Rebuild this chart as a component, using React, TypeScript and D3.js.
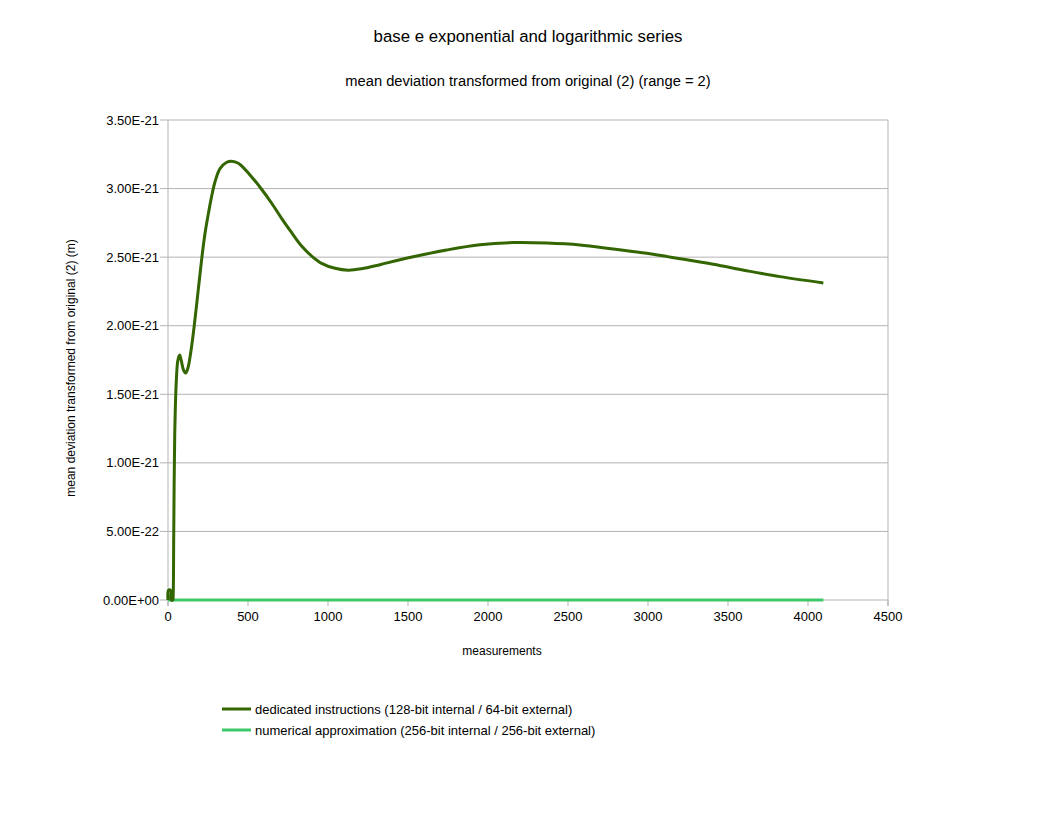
import React from "react";
import * as d3 from "d3";

const chartTitle = "base e exponential and logarithmic series";
const chartSubtitle = "mean deviation transformed from original (2) (range = 2)";
const xAxisTitle = "measurements";
const yAxisTitle = "mean deviation transformed from original (2) (m)";

const xTicks = [0, 500, 1000, 1500, 2000, 2500, 3000, 3500, 4000, 4500];
const yTicks = [0, 0.5e-21, 1.0e-21, 1.5e-21, 2.0e-21, 2.5e-21, 3.0e-21, 3.5e-21];

const dedicatedX = [
  0, 3, 16, 20, 30, 32, 36, 42, 52, 62, 73, 84, 96, 110, 124, 144, 164, 188, 212, 231, 252, 273, 294, 325,
  367, 398, 440, 460, 523, 585, 648, 710, 773, 835, 898, 960, 1044, 1127, 1210, 1325, 1430, 1533, 1742, 1950,
  2158, 2367, 2575, 2783, 2992, 3200, 3408, 3617, 3825, 4096,
];
const dedicatedY = [
  0, 0.07, 0.07, 0.0, 0.0, 0.02, 0.5, 1.2, 1.6, 1.75, 1.786, 1.74, 1.68, 1.655, 1.69, 1.82, 2.0, 2.25, 2.5,
  2.67, 2.815, 2.945, 3.05, 3.145, 3.192, 3.2, 3.185, 3.165, 3.085, 2.995, 2.893, 2.783, 2.678, 2.581, 2.508,
  2.455, 2.419, 2.405, 2.415, 2.445, 2.475, 2.503, 2.552, 2.59, 2.606, 2.603, 2.589, 2.559, 2.528, 2.489,
  2.448, 2.401, 2.358, 2.312,
].map((v) => v * 1e-21);

const numericalX = [0, 1024, 2048, 3072, 4096];
const numericalY = [0, 0, 0, 0, 0];

const seriesNames = [
  "dedicated instructions (128-bit internal / 64-bit external)",
  "numerical approximation (256-bit internal / 256-bit external)",
];
const seriesColors = ["#336600", "#3dc86a"];

const fmtY = (v: number) => {
  const s = v.toExponential(2).toUpperCase();
  const [m, e] = s.split("E");
  const ev = parseInt(e, 10);
  const sign = ev < 0 ? "-" : "+";
  const abs = Math.abs(ev);
  return `${m}E${sign}${abs < 10 ? "0" + abs : abs}`;
};

export default function App() {
  const W = 1056,
    H = 816;
  const left = 168,
    right = 888,
    top = 120,
    bottom = 600;
  const x = d3.scaleLinear().domain([0, 4500]).range([left, right]);
  const y = d3.scaleLinear().domain([0, 3.5e-21]).range([bottom, top]);
  const line = d3
    .line<[number, number]>()
    .x((d) => x(d[0]))
    .y((d) => y(d[1]))
    .curve(d3.curveCatmullRom.alpha(0.5));
  const dPts = dedicatedX.map((v, i) => [v, dedicatedY[i]] as [number, number]);
  const nPts = numericalX.map((v, i) => [v, numericalY[i]] as [number, number]);
  const font = "'Liberation Sans', Arial, sans-serif";
  const grid = "#b3b3b3";

  return (
    <svg
      width={W}
      height={H}
      style={{ position: "absolute", left: 0, top: 0, background: "#fff" }}
      fontFamily={font}
    >
      <rect x={0} y={0} width={W} height={H} fill="#fff" />
      <text x={528} y={42} textAnchor="middle" fontSize={16.8} fill="#000">
        {chartTitle}
      </text>
      <text x={528} y={86} textAnchor="middle" fontSize={14.7} fill="#000">
        {chartSubtitle}
      </text>
      {yTicks.map((t) => (
        <g key={"y" + t}>
          <line x1={left - 8} x2={right} y1={y(t)} y2={y(t)} stroke={grid} strokeWidth={1} />
          <text x={left - 9} y={y(t) + 4.5} textAnchor="end" fontSize={13} fill="#000">
            {fmtY(t)}
          </text>
        </g>
      ))}
      <line x1={left} x2={left} y1={top} y2={bottom + 6} stroke={grid} />
      <line x1={right} x2={right} y1={top} y2={bottom + 6} stroke={grid} />
      {xTicks.map((t) => (
        <g key={"x" + t}>
          <line x1={x(t)} x2={x(t)} y1={bottom} y2={bottom + 6} stroke={grid} />
          <text x={x(t)} y={bottom + 21} textAnchor="middle" fontSize={13} fill="#000">
            {t}
          </text>
        </g>
      ))}
      <text x={502} y={655} textAnchor="middle" fontSize={12} fill="#000">
        {xAxisTitle}
      </text>
      <text
        x={0}
        y={0}
        transform={`translate(75, 368) rotate(-90)`}
        textAnchor="middle"
        fontSize={12}
        fill="#000"
      >
        {yAxisTitle}
      </text>
      <path d={line(nPts) || ""} fill="none" stroke={seriesColors[1]} strokeWidth={3} />
      <path d={line(dPts) || ""} fill="none" stroke={seriesColors[0]} strokeWidth={3} strokeLinejoin="round" />
      {seriesNames.map((n, i) => (
        <g key={n}>
          <line
            x1={222}
            x2={251}
            y1={709 + i * 21}
            y2={709 + i * 21}
            stroke={seriesColors[i]}
            strokeWidth={3}
          />
          <text x={255} y={714 + i * 21} fontSize={13} fill="#000">
            {n}
          </text>
        </g>
      ))}
    </svg>
  );
}
